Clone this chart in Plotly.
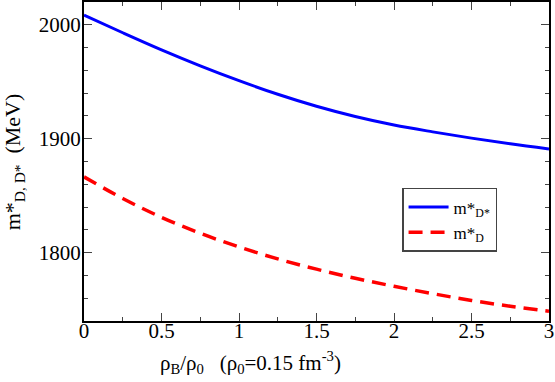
import plotly.graph_objects as go

# density rho_B/rho_0
rho = [0.0, 0.25, 0.5, 0.75, 1.0, 1.25, 1.5, 1.75, 2.0, 2.25, 2.5, 2.75, 3.0]
# effective masses (MeV)
m_dstar = [2008.5, 1993, 1978, 1964, 1951, 1939, 1928.5, 1919.5, 1912, 1906, 1900.5, 1895.5, 1891]
m_d = [1866.5, 1847.5, 1831, 1817, 1805, 1794.5, 1785.5, 1777.5, 1770.5, 1764, 1758, 1753, 1748.5]

x_title = "ρ<sub>B</sub>/ρ<sub>0</sub>   (ρ<sub>0</sub>=0.15 fm<sup>-3</sup>)"
y_title = "m*<sub>D, D*</sub>  (MeV)"

font_name = "Liberation Serif"

fig = go.Figure()
fig.add_trace(go.Scatter(x=rho, y=m_dstar, mode="lines", name="m*<sub>D*</sub>",
                         line=dict(color="#0000ff", width=3, shape="spline")))
fig.add_trace(go.Scatter(x=rho, y=m_d, mode="lines", name="m*<sub>D</sub>",
                         line=dict(color="#ff0000", width=3.5, dash="14px,8px", shape="spline")))

axis_common = dict(showline=True, linecolor="black", linewidth=2, mirror="allticks",
                   ticks="inside", ticklen=8, tickwidth=1, tickcolor="#444",
                   showgrid=False, zeroline=False, automargin=False,
                   ticklabeloverflow="allow",
                   tickfont=dict(family=font_name, size=21, color="black"))

fig.update_xaxes(range=[0, 3], dtick=0.5, tick0=0, ticklabelstandoff=-10,
                 minor=dict(dtick=0.25, ticks="inside", ticklen=4, tickcolor="#444"),
                 **axis_common)
fig.update_yaxes(range=[1740, 2020], dtick=100, tick0=1800, ticklabelstandoff=-3,
                 minor=dict(dtick=20, ticks="inside", ticklen=4, tickcolor="#444"),
                 **axis_common)

# axis titles as annotations so they can be placed like the original
fig.add_annotation(x=0.359, y=-0.129, xref="paper", yref="paper",
                   xanchor="center", yanchor="middle", showarrow=False,
                   text=x_title, font=dict(family=font_name, size=21, color="black"))
fig.add_annotation(x=-0.151, y=0.5, xref="paper", yref="paper",
                   xanchor="center", yanchor="middle", showarrow=False, textangle=-90,
                   text=y_title, font=dict(family=font_name, size=22, color="black"))

fig.update_layout(
    width=555, height=382,
    margin=dict(l=84, r=6, t=2, b=61),
    plot_bgcolor="white", paper_bgcolor="white",
    font=dict(family=font_name, color="black"),
    legend=dict(x=0.684, y=0.417, xanchor="left", yanchor="top",
                bordercolor="#444", borderwidth=1.5, bgcolor="white",
                font=dict(family=font_name, size=17, color="black"),
                tracegroupgap=0, itemwidth=40),
)

fig.write_html("out.html", post_script="document.body.style.margin='0';",
               config={"displayModeBar": False})
